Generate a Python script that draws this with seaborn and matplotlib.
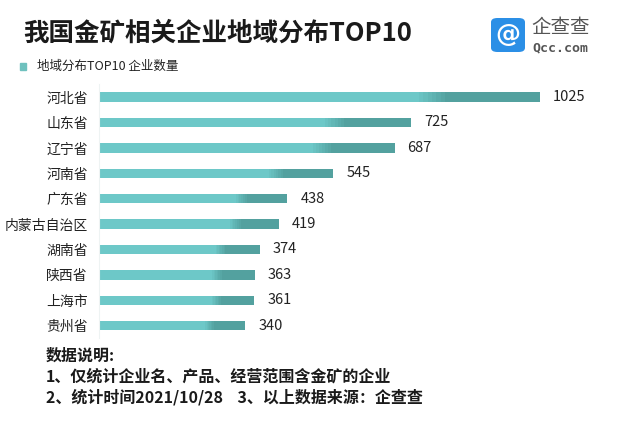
import matplotlib
matplotlib.use("Agg")
import matplotlib.pyplot as plt
from matplotlib.patches import FancyBboxPatch, Rectangle
import matplotlib.colors as mcolors
import seaborn as sns
import pandas as pd
import numpy as np

categories = ["河北省", "山东省", "辽宁省", "河南省", "广东省", "内蒙古自治区", "湖南省", "陕西省", "上海市", "贵州省"]
values = [1025, 725, 687, 545, 438, 419, 374, 363, 361, 340]
legend_label = "地域分布TOP10 企业数量"
title = "我国金矿相关企业地域分布TOP10"
notes = ["数据说明:", "1、仅统计企业名、产品、经营范围含金矿的企业", "2、统计时间2021/10/28    3、以上数据来源：企查查"]

sns.set_theme(style="white")
plt.rcParams['font.family'] = ['Noto Sans CJK SC', 'DejaVu Sans']

df = pd.DataFrame({"region": categories, "count": values})

fig = plt.figure(figsize=(6.4, 4.21), dpi=100)
fig.patch.set_facecolor("white")
ax = fig.add_axes([99/640, 1-338.4/421, 501/640, 254/421])

dark = np.array(mcolors.to_rgb("#53A19F"))
light = np.array(mcolors.to_rgb("#6DC8C8"))
bw = 0.37
sns.barplot(data=df, x="count", y="region", orient="h", color=tuple(dark), width=bw, saturation=1, ax=ax)
fracs = np.linspace(0.785, 0.725, 7)
for k, f in enumerate(fracs):
    t = (k + 1) / len(fracs)
    c = tuple(dark * (1 - t) + light * t)
    sns.barplot(data=df.assign(count=df["count"] * f), x="count", y="region", orient="h",
                color=c, width=bw, saturation=1, ax=ax)
for p in ax.patches:
    p.set_edgecolor("none")
    p.set_linewidth(0)

ax.set_xlim(0, 501 / (441/1025))
ax.set_ylim(9.5, -0.5)
ax.set_xlabel("")
ax.set_ylabel("")
ax.set_xticks([])
for s in ["top", "right", "bottom"]:
    ax.spines[s].set_visible(False)
ax.spines["left"].set_color("#EEF3F3")
ax.spines["left"].set_linewidth(0.8)
ax.tick_params(axis="y", length=0, pad=8, labelsize=10, labelcolor="#222222")

for i, v in enumerate(values):
    ax.text(v + 30, i, str(v), va="center", ha="left", fontsize=10.5, color="#222222")

fig.text(23/640, 1-33/421, title, fontsize=18.4, fontweight="heavy", color="#1a1a1a", va="center", ha="left")
fig.patches.append(Rectangle((20/640, 1-70/421), 6/640, 7/421, transform=fig.transFigure, color="#6FC1BE"))
fig.text(37/640, 1-66/421, legend_label, fontsize=9, color="#222222", va="center", ha="left")

# logo
fig.patches.append(FancyBboxPatch((491/640, 1-52/421), 34/640, 34/421, boxstyle="round,pad=0,rounding_size=0.01",
                                  transform=fig.transFigure, facecolor="#2B8FE6", edgecolor="none"))
fig.text(508/640, 1-35/421, "@", fontsize=18, color="white", ha="center", va="center", fontweight="bold", family="DejaVu Sans")
fig.text(531/640, 1-27/421, "企查查", fontsize=14, color="#555555", ha="left", va="center")
fig.text(532/640, 1-48/421, "Qcc.com", fontsize=9.5, color="#555555", ha="left", va="center", family="DejaVu Sans Mono", fontweight="bold")

ys = [356, 377, 397]
for y, t in zip(ys, notes):
    fig.text(46/640, 1-y/421, t, fontsize=11.5, fontweight="bold", color="#1a1a1a", va="center", ha="left")

fig.savefig("out.png", dpi=100, facecolor="white")
